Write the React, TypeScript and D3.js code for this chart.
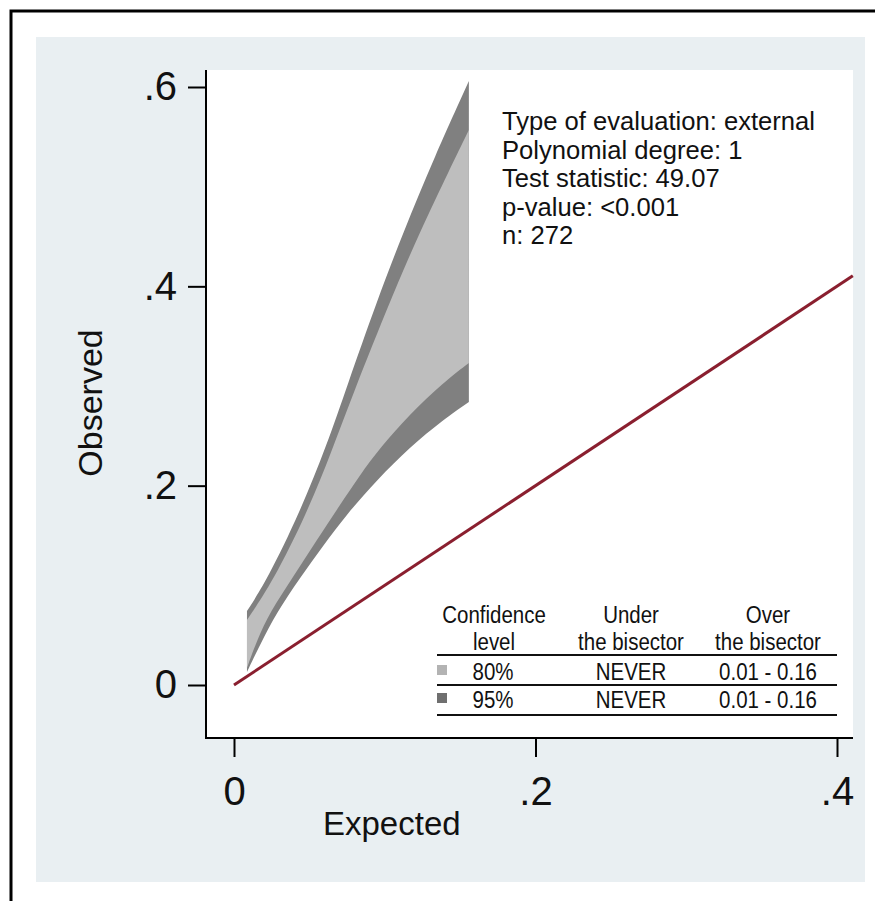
import React, { useRef, useEffect } from 'react';
import * as d3 from 'd3';

// band edges: [expected, observed]
const upper95: [number, number][] = [
  [0.0086, 0.0742], [0.0219, 0.1053], [0.0438, 0.1736], [0.0617, 0.2413], [0.0749, 0.2995],
  [0.0948, 0.3853], [0.1121, 0.4535], [0.1333, 0.5308], [0.1558, 0.606],
];
const upper80: [number, number][] = [
  [0.0086, 0.0652], [0.0259, 0.1043], [0.0484, 0.1726], [0.065, 0.2353], [0.0782, 0.2895],
  [0.1054, 0.3923], [0.1233, 0.4545], [0.1432, 0.5177], [0.1558, 0.5568],
];
const lower80: [number, number][] = [
  [0.0086, 0.0171], [0.0153, 0.0451], [0.0239, 0.0732], [0.0391, 0.1084], [0.055, 0.1455],
  [0.0703, 0.1806], [0.0836, 0.2107], [0.0968, 0.2378], [0.1167, 0.2719], [0.1386, 0.3030],
  [0.1558, 0.3231],
];
const lower95: [number, number][] = [
  [0.0086, 0.013], [0.0172, 0.0401], [0.0285, 0.0732], [0.0438, 0.1074], [0.059, 0.1395],
  [0.0749, 0.1716], [0.0948, 0.2057], [0.1167, 0.2388], [0.1386, 0.2659], [0.1558, 0.2839],
];
const bisector = [0, 0.4105];

const xTicks = [0, 0.2, 0.4];
const yTicks = [0, 0.2, 0.4, 0.6];

const infoLines = [
  'Type of evaluation: external',
  'Polynomial degree: 1',
  'Test statistic: 49.07',
  'p-value: <0.001',
  'n: 272',
];

const legendHeaders = [['Confidence', 'level'], ['Under', 'the bisector'], ['Over', 'the bisector']];
const levels = ['80%', '95%'];
const underBisector = ['NEVER', 'NEVER'];
const overBisector = ['0.01 - 0.16', '0.01 - 0.16'];
const bandColors = ['#bebebe', '#808080'];
const swatchColors = ['#b3b3b3', '#6f6f6f'];

const FONT = '"Liberation Sans", Arial, Helvetica, sans-serif';

const App = () => {
  const svgRef = useRef<SVGSVGElement>(null);

  useEffect(() => {
    const svg = d3.select(svgRef.current);
    svg.selectAll('*').remove();

    const plot = { left: 206, right: 853, top: 70, bottom: 738 };

    // outer frame + light background
    svg.append('rect').attr('x', 11).attr('y', 11).attr('width', 900).attr('height', 920)
      .attr('fill', 'white').attr('stroke', 'black').attr('stroke-width', 3);
    svg.append('rect').attr('x', 36).attr('y', 37).attr('width', 829).attr('height', 845)
      .attr('fill', '#e9eff2');
    svg.append('rect').attr('x', plot.left).attr('y', plot.top)
      .attr('width', plot.right - plot.left).attr('height', plot.bottom - plot.top)
      .attr('fill', 'white');

    const x = d3.scaleLinear().domain([0, 0.4]).range([234, 837]);
    const y = d3.scaleLinear().domain([0, 0.6]).range([685, 87]);

    const line = d3.line<[number, number]>()
      .x(d => x(d[0]))
      .y(d => y(d[1]))
      .curve(d3.curveBasis);

    const bandPath = (up: [number, number][], lo: [number, number][]) =>
      (line(up) as string) + (line(lo.slice().reverse()) as string).replace(/^M/, 'L') + 'Z';

    svg.append('path').attr('d', bandPath(upper95, lower95)).attr('fill', bandColors[1]);
    svg.append('path').attr('d', bandPath(upper80, lower80)).attr('fill', bandColors[0]);

    // bisector
    svg.append('line')
      .attr('x1', x(bisector[0])).attr('y1', y(bisector[0]))
      .attr('x2', x(bisector[1])).attr('y2', y(bisector[1]))
      .attr('stroke', '#8a1f2f').attr('stroke-width', 3);

    const fmt = (d: number) => (d === 0 ? '0' : d3.format('.1f')(d).replace(/^0/, ''));

    // y axis
    const gy = svg.append('g')
      .attr('transform', `translate(${plot.left},0)`)
      .call(d3.axisLeft(y).tickValues(yTicks).tickFormat(d => fmt(+d)).tickSize(18).tickPadding(11));
    gy.select('.domain').remove();
    gy.selectAll('line').attr('stroke-width', 2);
    gy.selectAll('text').style('font-family', FONT).style('font-size', '40px').attr('fill', '#111');

    // x axis
    const gx = svg.append('g')
      .attr('transform', `translate(0,${plot.bottom})`)
      .call(d3.axisBottom(x).tickValues(xTicks).tickFormat(d => fmt(+d)).tickSize(19).tickPadding(20));
    gx.select('.domain').remove();
    gx.selectAll('line').attr('stroke-width', 2);
    gx.selectAll('text').style('font-family', FONT).style('font-size', '40px').attr('fill', '#111');

    // axis lines
    svg.append('line').attr('x1', plot.left).attr('x2', plot.left)
      .attr('y1', plot.top).attr('y2', plot.bottom + 1)
      .attr('stroke', 'black').attr('stroke-width', 2);
    svg.append('line').attr('x1', plot.left - 1).attr('x2', plot.right)
      .attr('y1', plot.bottom).attr('y2', plot.bottom)
      .attr('stroke', 'black').attr('stroke-width', 2);

    // axis titles
    svg.append('text')
      .attr('x', 323).attr('y', 835)
      .style('font-family', FONT).style('font-size', '33px').attr('fill', '#111')
      .text('Expected');
    svg.append('text')
      .attr('transform', 'translate(102,403) rotate(-90)')
      .attr('text-anchor', 'middle')
      .style('font-family', FONT).style('font-size', '34px').attr('fill', '#111')
      .text('Observed');

    // info text
    svg.append('g').selectAll('text')
      .data(infoLines)
      .enter()
      .append('text')
      .attr('x', 502)
      .attr('y', (d, i) => 130 + i * 28.5)
      .style('font-family', FONT).style('font-size', '25.6px').attr('fill', '#111')
      .text(d => d);

    // legend table
    const lg = svg.append('g');
    const colX = [494, 631, 768];
    const narrow = (sel: any, tx: number, ty: number, txt: string) =>
      sel.append('text')
        .attr('transform', `translate(${tx},${ty}) scale(0.89,1)`)
        .attr('text-anchor', 'middle')
        .style('font-family', FONT).style('font-size', '23px').attr('fill', '#111')
        .text(txt);

    legendHeaders.forEach((h, i) => {
      narrow(lg, colX[i], 623, h[0]);
      narrow(lg, colX[i], 650, h[1]);
    });
    const rowY = [680, 708];
    levels.forEach((lv, i) => {
      lg.append('rect').attr('x', 437).attr('y', rowY[i] - 15).attr('width', 10).attr('height', 10)
        .attr('fill', swatchColors[i]);
      narrow(lg, colX[0] - 1, rowY[i], lv);
      narrow(lg, colX[1], rowY[i], underBisector[i]);
      narrow(lg, colX[2], rowY[i], overBisector[i]);
    });
    [655, 685, 715].forEach(ly => {
      lg.append('line').attr('x1', 437).attr('x2', 837).attr('y1', ly).attr('y2', ly)
        .attr('stroke', '#111').attr('stroke-width', 2);
    });
  }, []);

  return (
    <svg
      ref={svgRef}
      width={875}
      height={901}
      style={{ position: 'absolute', left: 0, top: 0, display: 'block' }}
    />
  );
};

export default App;
